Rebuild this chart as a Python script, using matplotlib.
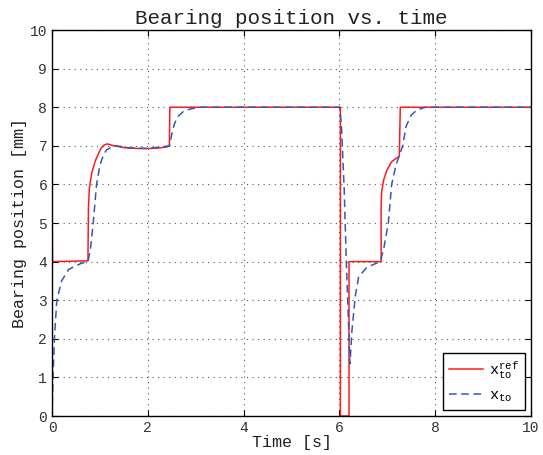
import numpy as np
import matplotlib
matplotlib.use("Agg")
from matplotlib import pyplot as plt

plt.rcParams['font.family'] = ['Liberation Mono', 'DejaVu Sans Mono']
plt.rcParams['mathtext.fontset'] = 'custom'
plt.rcParams['mathtext.rm'] = 'Liberation Mono'
plt.rcParams['mathtext.it'] = 'Liberation Mono'

## reference position (red)
t_ref = [0.0, 0.0, 0.01, 0.75, 0.76, 0.78, 0.83, 0.90, 0.97, 1.03, 1.09, 1.15,
         1.30, 1.52, 1.80, 2.00, 2.20, 2.40, 2.45, 2.46, 6.02, 6.02, 6.20, 6.20,
         6.87, 6.87, 6.88, 6.92, 6.99, 7.09, 7.25, 7.27, 10.0]
x_ref = [0.0, 6.0, 4.0, 4.02, 5.4, 5.9, 6.3, 6.6, 6.8, 6.95, 7.02, 7.05,
         7.0, 6.95, 6.93, 6.93, 6.94, 6.97, 7.0, 8.0, 8.0, 0.0, 0.0, 4.0,
         4.0, 5.4, 5.8, 6.1, 6.37, 6.59, 6.73, 8.0, 8.0]

## actual position (blue dashed)
t_act = [0.0, 0.02, 0.05, 0.10, 0.20, 0.35, 0.60, 0.75, 0.80, 0.86, 0.93, 1.00,
         1.07, 1.14, 1.25, 1.35, 1.60, 2.00, 2.45, 2.50, 2.55, 2.62, 2.75, 2.90,
         3.10, 6.00, 6.04, 6.10, 6.14, 6.19, 6.22, 6.26, 6.33, 6.40, 6.57, 6.85,
         6.92, 7.02, 7.09, 7.18, 7.32, 7.39, 7.50, 7.62, 7.80, 10.0]
x_act = [0.0, 1.0, 2.0, 3.0, 3.5, 3.8, 3.95, 4.0, 4.3, 5.0, 6.0, 6.5,
         6.75, 6.9, 6.97, 7.0, 6.95, 6.93, 7.0, 7.3, 7.55, 7.75, 7.9, 7.96,
         8.0, 8.0, 7.58, 5.85, 4.13, 2.4, 1.35, 2.2, 3.1, 3.6, 3.85, 4.0,
         4.3, 5.0, 6.0, 6.5, 7.0, 7.5, 7.8, 7.93, 8.0, 8.0]

fig = plt.figure(figsize=(5.43, 4.55), dpi=100)
ax = fig.add_axes([0.0958, 0.0857, 0.8822, 0.8483])

ax.plot(t_ref, x_ref, color='#ff1a1a', lw=1.1, label=r'x$^{\rm ref}_{\rm to}$')
ax.plot(t_act, x_act, color='#3358b8', lw=1.1, ls=(0, (5, 3)), label=r'x$_{\rm to}$')

ax.set_xlim(0, 10)
ax.set_ylim(0, 10)
ax.set_xticks([0, 2, 4, 6, 8, 10])
ax.set_yticks(np.arange(0, 11, 1))
ax.tick_params(direction='in', top=True, right=True, labelsize=10.5, length=4,
               labelcolor='#333333')
ax.grid(True, ls=(0, (1, 4)), color='#555555', lw=0.8)
for s in ax.spines.values():
    s.set_linewidth(1.0)

ax.set_title('Bearing position vs. time', fontsize=15, pad=4, color='#222222')
ax.set_xlabel('Time [s]', fontsize=12, labelpad=0, color='#222222')
ax.set_ylabel('Bearing position [mm]', fontsize=12, labelpad=2, color='#222222')

ax.legend(loc='lower right', fontsize=11, fancybox=False, edgecolor='black',
          framealpha=1, handlelength=2.2, handletextpad=0.4, borderaxespad=0.4)

fig.savefig('out.png', dpi=100)
